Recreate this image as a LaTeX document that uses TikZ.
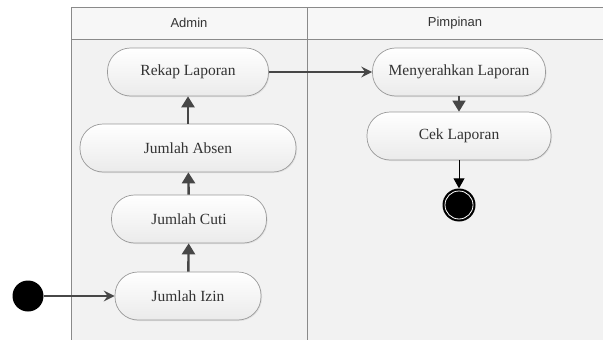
\documentclass[tikz,border=0pt]{standalone}
\usepackage{fontspec}
\setmainfont{Liberation Serif}
\newfontfamily\lanefont{Liberation Sans}
\usetikzlibrary{arrows.meta,shadows}
\definecolor{lanebg}{HTML}{F2F2F2}
\definecolor{headbg}{HTML}{F7F7F7}
\definecolor{laneline}{HTML}{8A8A8A}
\definecolor{actborder}{HTML}{9A9A9A}
\definecolor{ink}{HTML}{333333}
\tikzset{
  activity/.style={draw=actborder, line width=0.7pt, rounded corners=23pt,
    top color=white, bottom color=white!92!black,
    minimum height=48pt, inner sep=0pt, text=ink,
    font=\fontsize{15.5}{18}\selectfont,
    drop shadow={shadow xshift=1pt, shadow yshift=-1pt, opacity=0.15}},
  lanetitle/.style={text=ink, font=\lanefont\fontsize{13}{15}\selectfont},
  upflow/.style={draw=ink!90, line width=2.4pt,
    -{Triangle[length=11pt,width=13pt]}},
  sideflow/.style={draw=ink!90, line width=1.5pt,
    -{Stealth[length=11pt,width=11pt,inset=4pt]}},
  endflow/.style={draw=black, line width=0.9pt,
    -{Triangle[length=10pt,width=11pt]}},
}
\begin{document}
\begin{tikzpicture}[x=1pt,y=-1pt]
  \useasboundingbox (0,0) rectangle (603,340);
  \fill[white] (0,0) rectangle (603,340);

  % swimlanes
  \fill[lanebg] (71,39) rectangle (610,345);
  \fill[headbg] (71,7) rectangle (610,39);
  \draw[laneline, line width=0.9pt] (71,345) -- (71,7) -- (610,7);
  \draw[laneline, line width=0.9pt] (71,39) -- (610,39);
  \draw[laneline, line width=0.9pt] (307,7) -- (307,345);
  \node[lanetitle] (hadmin) at (189,23) {Admin};
  \node[lanetitle] (hpimp) at (455,23) {Pimpinan};

  % activities
  \node[activity, minimum width=161pt] (rekap) at (188,72) {Rekap Laporan};
  \node[activity, minimum width=216pt] (absen) at (188,148) {Jumlah Absen};
  \node[activity, minimum width=155pt] (cuti) at (189,219) {Jumlah Cuti};
  \node[activity, minimum width=146pt] (izin) at (188,296) {Jumlah Izin};
  \node[activity, minimum width=173pt] (serah) at (459,72) {Menyerahkan Laporan};
  \node[activity, minimum width=184pt] (cek) at (459,136) {Cek Laporan};

  % start and end
  \node[circle, fill=black, minimum size=31pt, inner sep=0pt] (start) at (28,296) {};
  \node[circle, fill=black, minimum size=33pt, inner sep=0pt] (finish) at (459,205) {};
  \node[circle, draw=white, line width=0.8pt, minimum size=28pt, inner sep=0pt] (finring) at (finish) {};

  % control flows
  \draw[sideflow] (start) -- (izin);
  \draw[upflow] (izin) -- (cuti);
  \draw[upflow] (cuti) -- (absen);
  \draw[upflow] (absen) -- (rekap);
  \draw[sideflow] (rekap) -- (serah);
  \draw[upflow, line width=1.6pt] (serah) -- (cek);
  \draw[endflow] (cek) -- (finish);
\end{tikzpicture}
\end{document}
